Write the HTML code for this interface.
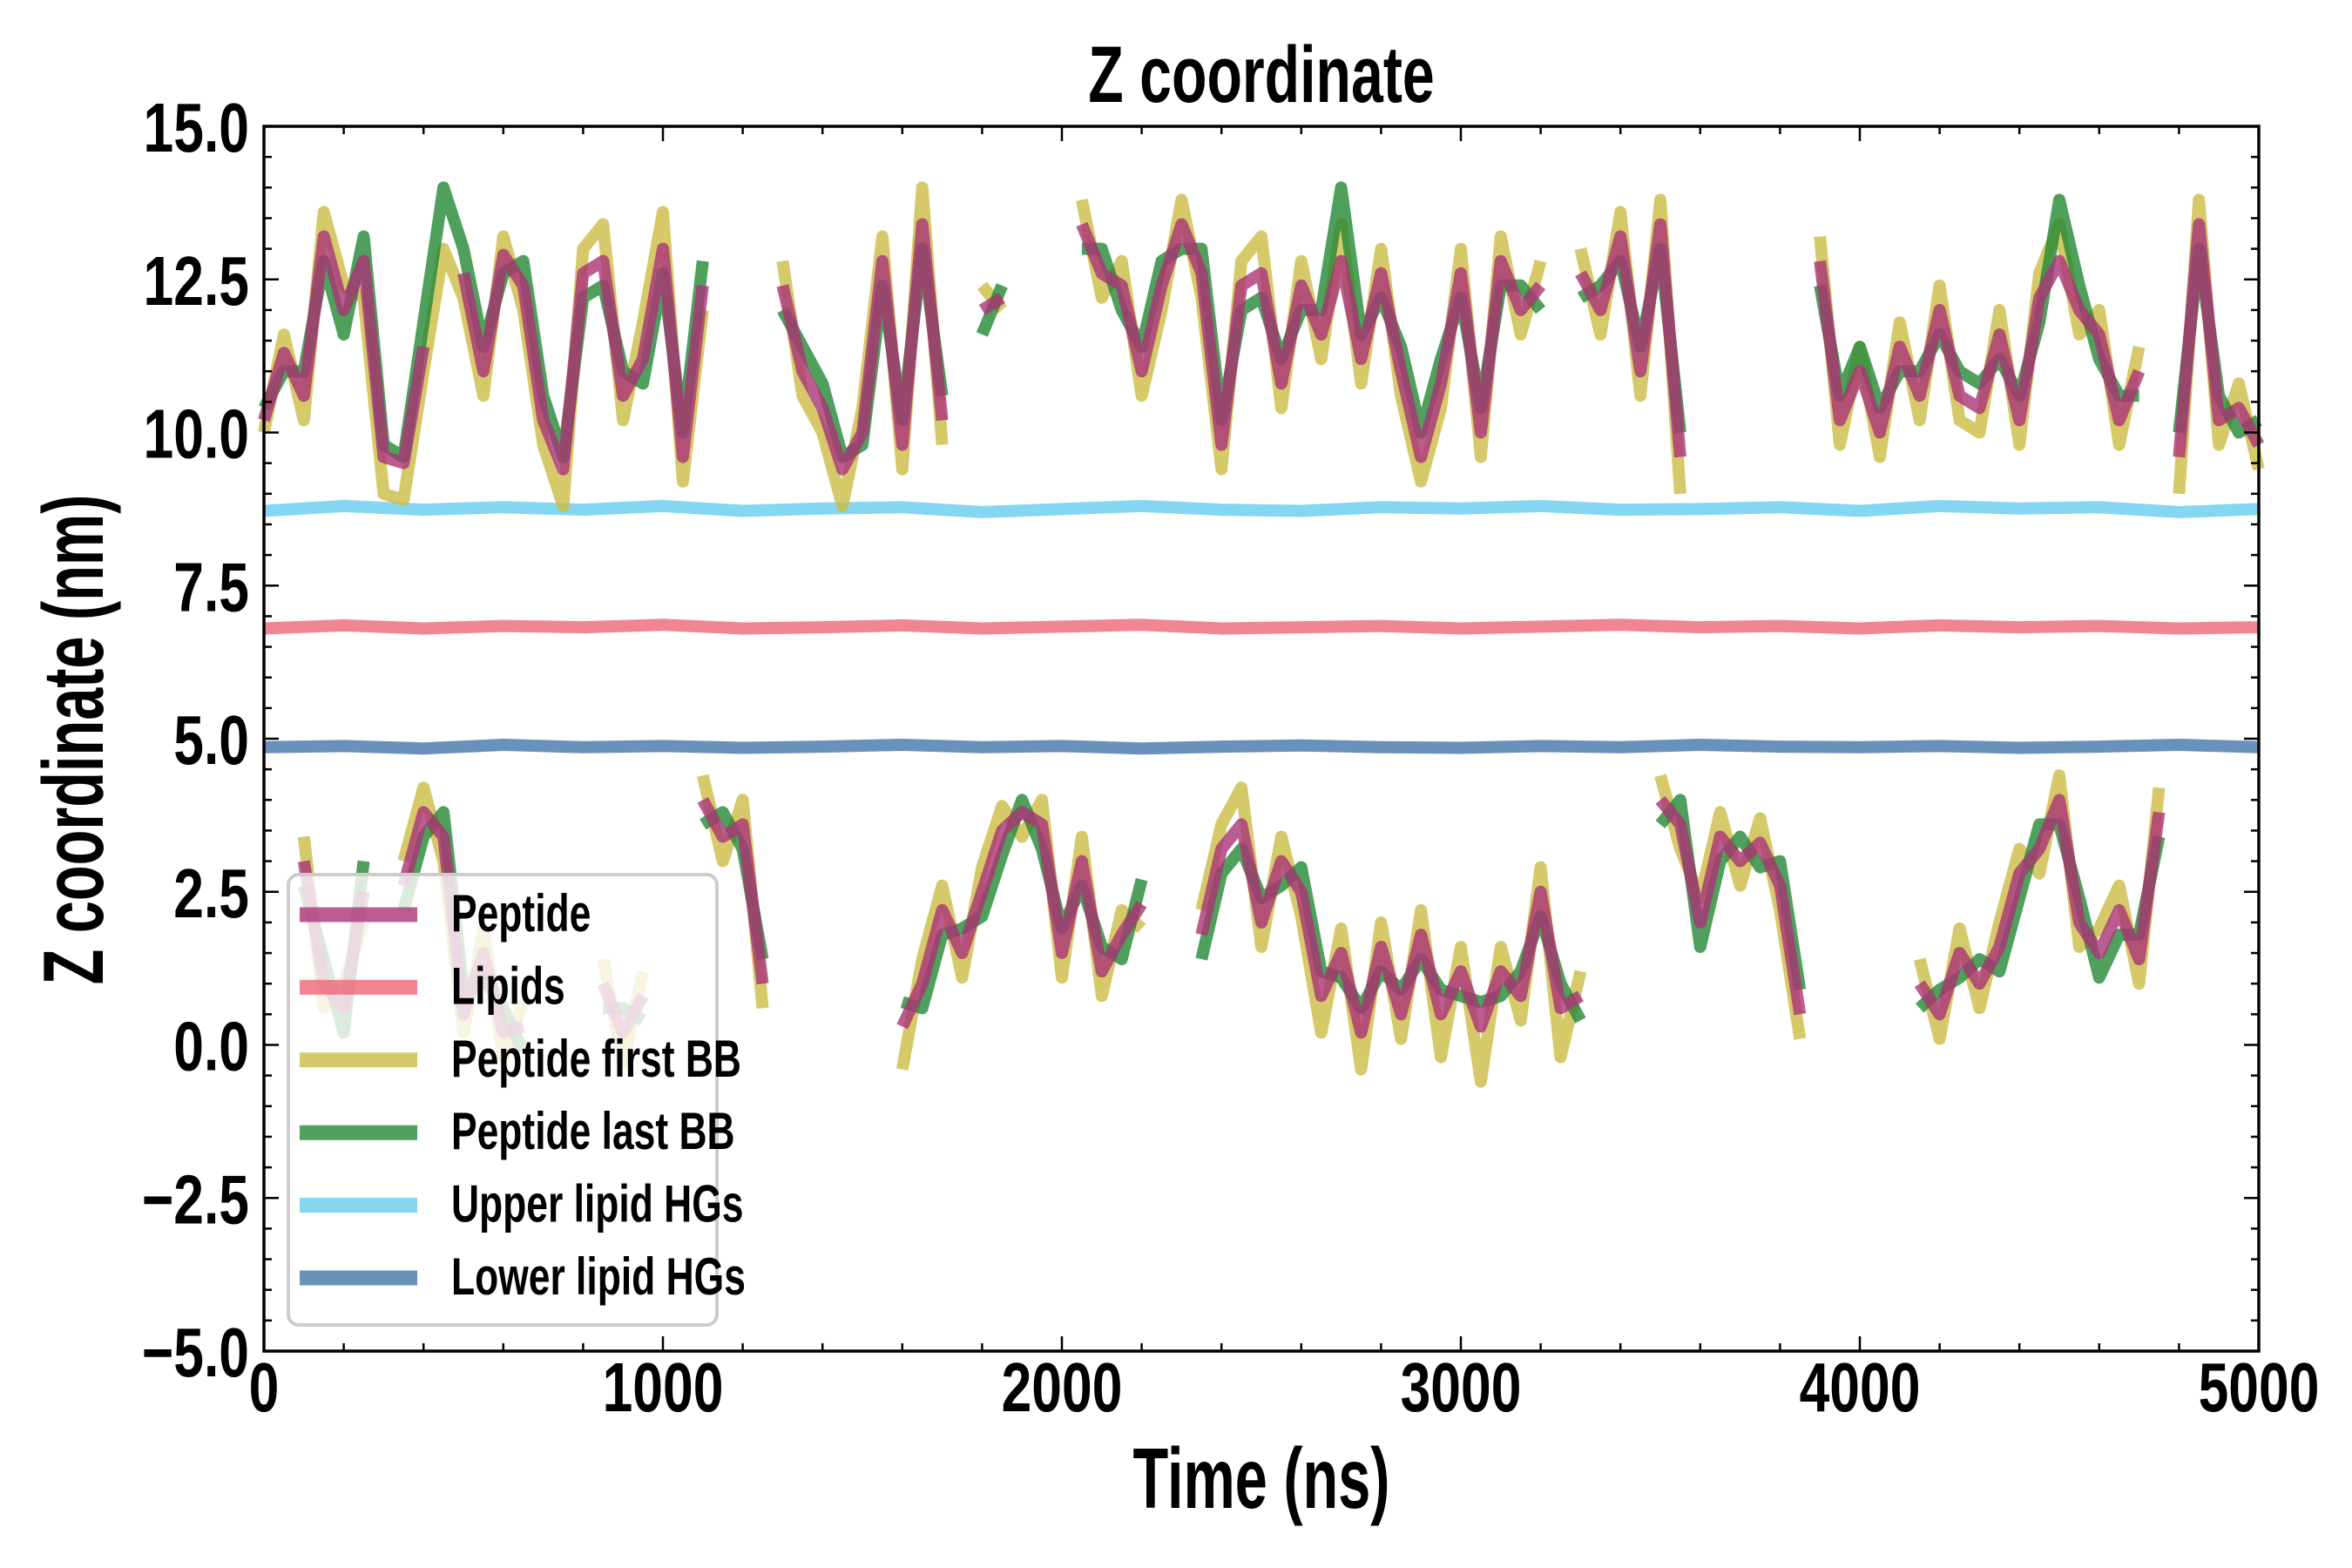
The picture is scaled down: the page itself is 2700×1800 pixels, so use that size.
<!DOCTYPE html>
<html><head><meta charset="utf-8"><style>
html,body{margin:0;padding:0;background:#fff;}
svg{display:block;}
text{font-family:"Liberation Sans Narrow","Liberation Sans",sans-serif;font-weight:bold;fill:#000;}
</style></head><body>
<svg id="chart" width="2700" height="1800" viewBox="0 0 2700 1800" xmlns="http://www.w3.org/2000/svg">
<g id="plot"></g>
<g id="axes"></g>
<text transform="translate(1448,117) scale(0.72,1)" text-anchor="middle" font-size="92">Z coordinate</text>
<text transform="translate(1448,1731) scale(0.68,1)" text-anchor="middle" font-size="98">Time (ns)</text>
<text transform="translate(118,849) rotate(-90) scale(0.68,1)" text-anchor="middle" font-size="98">Z coordinate (nm)</text>
<g id="legend"></g>
</svg>
<script>
const times = [0,50,100,150,200,250,300,350,400,450,500,550,600,650,700,750,800,850,900,950,1000,1050,1100,1150,1200,1250,1300,1350,1400,1450,1500,1550,1600,1650,1700,1750,1800,1850,1900,1950,2000,2050,2100,2150,2200,2250,2300,2350,2400,2450,2500,2550,2600,2650,2700,2750,2800,2850,2900,2950,3000,3050,3100,3150,3200,3250,3300,3350,3400,3450,3500,3550,3600,3650,3700,3750,3800,3850,3900,3950,4000,4050,4100,4150,4200,4250,4300,4350,4400,4450,4500,4550,4600,4650,4700,4750,4800,4850,4900,4950,5000];
const peptideUpper = [10.2,11.3,10.6,13.2,12.0,12.8,9.6,9.5,11.4,null,12.6,11.0,12.9,12.4,10.2,9.4,12.6,12.8,10.6,11.2,13.0,9.6,12.4,null,null,null,12.4,11.0,10.4,9.4,10.0,12.8,9.8,13.4,10.2,null,12.0,12.2,null,null,null,13.4,12.6,12.4,11.0,12.4,13.4,12.6,9.8,12.4,12.6,10.8,12.4,11.6,12.8,11.2,12.6,11.0,9.6,10.8,12.6,10.0,12.8,12.0,12.4,null,12.6,12.0,13.2,11.0,13.4,9.6,null,null,null,null,null,null,12.8,10.2,11.0,10.0,11.4,10.6,12.0,10.6,10.4,11.6,10.2,12.2,12.8,12.0,11.6,10.2,11.0,null,9.6,13.4,10.2,10.4,9.8];
const peptideLower = [null,null,3.0,1.0,0.6,2.5,null,2.6,3.8,3.4,0.5,1.5,0.2,0.3,null,0.6,null,1.0,0.2,0.8,null,null,4.0,3.4,3.6,1.0,null,null,null,null,1.2,null,0.3,1.0,2.2,1.5,2.5,3.5,3.8,3.6,1.5,3.0,1.2,1.8,2.3,null,null,1.8,3.2,3.6,2.0,3.0,2.5,0.8,1.5,0.2,1.6,0.5,1.8,0.5,1.2,0.3,1.2,0.8,2.5,0.6,0.8,null,0.5,null,4.0,3.6,2.0,3.4,3.0,3.3,2.6,0.5,null,null,null,0.4,null,1.0,0.5,1.5,1.0,1.6,2.8,3.2,4.0,2.0,1.5,2.2,1.4,3.8,null,null,null,null,null];
const firstBBUpper = [10.0,11.6,10.2,13.6,12.4,12.2,9.0,8.9,11.0,13.0,12.2,10.6,13.2,12.0,9.8,8.8,13.0,13.4,10.2,11.8,13.6,9.2,12.0,null,null,null,12.8,10.6,10.0,8.8,10.4,13.2,9.4,14.0,9.8,null,12.4,12.0,null,null,null,13.8,12.2,12.8,10.6,12.0,13.8,12.2,9.4,12.8,13.2,10.4,12.8,11.2,13.4,10.8,13.0,10.6,9.2,10.4,13.0,9.6,13.2,11.6,12.8,null,13.0,11.6,13.6,10.6,13.8,9.0,null,null,null,null,null,null,13.2,9.8,11.4,9.6,11.8,10.2,12.4,10.2,10.0,12.0,9.8,12.6,13.4,11.6,12.0,9.8,11.4,null,9.0,13.8,9.8,10.8,9.4];
const firstBBLower = [null,null,3.4,0.6,1.0,2.0,null,3.0,4.2,3.0,0.2,1.9,-0.2,0.7,null,0.2,null,1.4,-0.3,1.2,null,null,4.4,3.0,4.0,0.6,null,null,null,null,0.8,null,-0.4,1.4,2.6,1.1,2.9,3.9,3.4,4.0,1.1,3.4,0.8,2.2,1.9,null,null,2.2,3.6,4.2,1.6,3.4,2.1,0.2,1.9,-0.4,2.0,0.1,2.2,-0.2,1.6,-0.6,1.6,0.4,2.9,-0.2,1.2,null,0.1,null,4.4,3.2,2.4,3.8,2.6,3.7,2.2,0.1,null,null,null,0.0,null,1.4,0.1,1.9,0.6,2.0,3.2,2.8,4.4,1.6,1.9,2.6,1.0,4.2,null,null,null,null,1.5];
const lastBBUpper = [10.4,11.0,11.0,12.8,11.6,13.2,9.8,9.6,11.8,14.0,13.0,11.4,12.6,12.8,10.6,9.6,12.2,12.4,11.0,10.8,12.6,10.0,12.8,null,null,null,12.0,11.4,10.8,9.6,9.8,12.4,10.2,13.0,10.6,null,11.6,12.4,null,null,null,13.0,13.0,12.0,11.4,12.8,13.0,13.0,10.2,12.0,12.2,11.2,12.0,12.0,14.0,11.6,12.2,11.4,10.0,11.2,12.2,10.4,12.4,12.4,12.0,null,12.2,12.4,12.8,11.4,13.0,10.0,null,null,null,null,null,null,12.4,10.6,11.4,10.4,11.0,11.0,11.6,11.0,10.8,11.2,10.6,11.8,13.8,12.4,11.2,10.6,10.6,null,10.0,13.0,10.6,10.0,10.2];
const lastBBLower = [null,null,2.6,1.4,0.2,3.0,null,2.2,3.4,3.8,0.9,1.1,0.6,-0.1,null,1.0,null,0.6,0.6,0.4,null,null,3.6,3.8,3.2,1.4,null,null,null,null,1.6,null,0.7,0.6,1.8,1.9,2.1,3.1,4.0,3.2,1.9,2.6,1.6,1.4,2.7,null,null,1.4,2.8,3.2,2.4,2.6,2.9,1.2,1.1,0.6,1.2,0.9,1.4,0.9,0.8,0.7,0.8,1.2,2.1,1.0,0.4,null,0.9,null,3.6,4.0,1.6,3.0,3.4,2.9,3.0,0.9,null,null,null,0.8,null,0.6,0.9,1.1,1.4,1.2,2.4,3.6,3.6,2.4,1.1,1.8,1.8,3.4,null,null,null,null,null];
const lipidTimes = [0,200,400,600,800,1000,1200,1400,1600,1800,2000,2200,2400,2600,2800,3000,3200,3400,3600,3800,4000,4200,4400,4600,4800,5000];
const upperHG = [8.72,8.8,8.74,8.78,8.74,8.8,8.72,8.76,8.78,8.7,8.75,8.8,8.74,8.72,8.78,8.76,8.8,8.74,8.75,8.78,8.72,8.8,8.76,8.78,8.7,8.75];
const lipidsMid = [6.8,6.85,6.8,6.84,6.82,6.86,6.8,6.82,6.85,6.8,6.83,6.86,6.8,6.82,6.84,6.8,6.83,6.86,6.82,6.84,6.8,6.85,6.82,6.84,6.8,6.82];
const lowerHG = [4.86,4.88,4.84,4.9,4.86,4.88,4.85,4.87,4.9,4.86,4.88,4.84,4.87,4.89,4.86,4.85,4.88,4.86,4.9,4.87,4.86,4.88,4.85,4.87,4.9,4.86];
const xTicks = [0,1000,2000,3000,4000,5000];
const xTickLabels = ["0","1000","2000","3000","4000","5000"];
const yTicks = [-5,-2.5,0,2.5,5,7.5,10,12.5,15];
const yTickLabels = ["\u22125.0","\u22122.5","0.0","2.5","5.0","7.5","10.0","12.5","15.0"];

const L=303,R=2593,T=145,B=1551;
const xs=t=>L+(t-0)/(5000-0)*(R-L);
const ys=v=>B-(v-(-5))/(15-(-5))*(B-T);
const NS="http://www.w3.org/2000/svg";
const plot=document.getElementById('plot'),axes=document.getElementById('axes'),legend=document.getElementById('legend');
function mk(tag,parent,attrs){const e=document.createElementNS(NS,tag);for(const k in attrs)e.setAttribute(k,attrs[k]);parent.appendChild(e);return e;}
function pathFor(tArr,vArr){let d='',pen=false;for(let i=0;i<tArr.length;i++){const v=vArr[i];if(v===null){pen=false;continue;}d+=(pen?'L':'M')+xs(tArr[i]).toFixed(1)+','+ys(v).toFixed(1);pen=true;}return d;}
const series=[
 {name:'upper-hg-line',t:lipidTimes,v:upperHG,c:'#66ccee',w:14},
 {name:'lipids-line',t:lipidTimes,v:lipidsMid,c:'#ee6677',w:14},
 {name:'lower-hg-line',t:lipidTimes,v:lowerHG,c:'#4477aa',w:14},
 {name:'first-bb-upper-line',t:times,v:firstBBUpper,c:'#ccbb44',w:14},
 {name:'first-bb-lower-line',t:times,v:firstBBLower,c:'#ccbb44',w:14},
 {name:'last-bb-upper-line',t:times,v:lastBBUpper,c:'#228833',w:14},
 {name:'last-bb-lower-line',t:times,v:lastBBLower,c:'#228833',w:14},
 {name:'peptide-upper-line',t:times,v:peptideUpper,c:'#aa3377',w:14},
 {name:'peptide-lower-line',t:times,v:peptideLower,c:'#aa3377',w:14}
];
series.forEach(s=>{
 const p=mk('path',plot,{d:pathFor(s.t,s.v),fill:'none',stroke:s.c,'stroke-width':s.w,'stroke-opacity':0.8,'stroke-linejoin':'round'});
 
 
});
const fr=mk('rect',axes,{x:L,y:T,width:R-L,height:B-T,fill:'none',stroke:'#000','stroke-width':3.5});


for(let t=0;t<=5000;t+=200){const major=t%1000===0;const len=major?17:9;const x=xs(t);
 mk('line',axes,{x1:x,x2:x,y1:B,y2:B-len,stroke:'#000','stroke-width':2.5});
 mk('line',axes,{x1:x,x2:x,y1:T,y2:T+len,stroke:'#000','stroke-width':2.5});}
for(let v=-5;v<=15.001;v+=0.5){const major=Math.abs(v/2.5-Math.round(v/2.5))<1e-6;const len=major?17:9;const y=ys(v);
 mk('line',axes,{x1:L,x2:L+len,y1:y,y2:y,stroke:'#000','stroke-width':2.5});
 mk('line',axes,{x1:R,x2:R-len,y1:y,y2:y,stroke:'#000','stroke-width':2.5});}
xTicks.forEach((t,i)=>{const tx=mk('text',axes,{transform:`translate(${xs(t)},1620) scale(0.78,1)`,'text-anchor':'middle','font-size':80});tx.textContent=xTickLabels[i];
 
 });
yTicks.forEach((v,i)=>{const tx=mk('text',axes,{transform:`translate(286,${ys(v)+29}) scale(0.78,1)`,'text-anchor':'end','font-size':80});tx.textContent=yTickLabels[i];
 
 });
const lgBox=mk('rect',legend,{x:331,y:1004,width:492,height:517,rx:12,fill:'#fff','fill-opacity':0.8,stroke:'#cccccc','stroke-width':4});


const legendLabels=['Peptide','Lipids','Peptide first BB','Peptide last BB','Upper lipid HGs','Lower lipid HGs'];
const legendColors=['#aa3377','#ee6677','#ccbb44','#228833','#66ccee','#4477aa'];
legendLabels.forEach((lab,i)=>{const y=1050+i*83.4;
 const g=mk('g',legend,{});
 
 
 mk('line',g,{x1:344,x2:479,y1:y,y2:y,stroke:legendColors[i],'stroke-width':17,'stroke-opacity':0.8});
 const tx=mk('text',g,{transform:`translate(518,${y+19}) scale(0.74,1)`,'font-size':60});tx.textContent=lab;});
</script>
</body></html>
